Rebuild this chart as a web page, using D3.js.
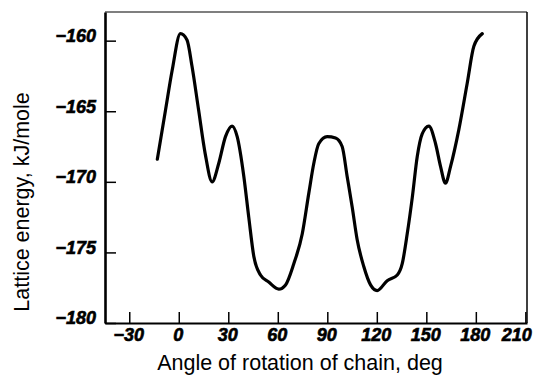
<!DOCTYPE html>
<html>
<head>
<meta charset="utf-8">
<script src="https://cdn.jsdelivr.net/npm/d3@7"></script>
<style>
  html, body { margin: 0; padding: 0; background: #fff; }
  svg { display: block; }
</style>
</head>
<body>
<svg id="chart" width="533" height="375"></svg>
<script>
// Lattice energy as a function of chain rotation angle
const angleDeg = [-13, -8, -4, 1, 5, 8, 12, 16, 20.2, 24.2, 28.3, 32.3, 35.4, 39.4, 42.4, 45.5, 49.5, 54.5, 60.6, 64.7, 69.7, 74.8, 78.8, 81.8, 84.8, 89.9, 95, 99, 102, 105.1, 108.1, 112.1, 116.2, 120.2, 126.3, 132.4, 135.4, 138.4, 141.5, 144.5, 147.5, 151.5, 155.6, 158.6, 161.6, 164.7, 169.7, 174.8, 178.8, 183.9];
const energyKJ = [-168.4, -164.9, -162.1, -159.5, -159.95, -161.8, -164.9, -168.0, -170.0, -168.7, -166.8, -166.05, -166.8, -169.6, -172.5, -175.3, -176.6, -177.1, -177.6, -177.3, -175.8, -173.7, -170.8, -168.7, -167.3, -166.8, -166.9, -167.5, -169.6, -171.8, -174.1, -176.0, -177.3, -177.7, -177.0, -176.6, -175.8, -173.7, -171.1, -168.2, -166.6, -166.05, -167.3, -168.9, -170.1, -168.9, -166.3, -163.0, -160.4, -159.5];
const xTicks = [-30, 0, 30, 60, 90, 120, 150, 180, 210];
const yTicks = [-160, -165, -170, -175, -180];
const xTitle = "Angle of rotation of chain, deg";
const yTitle = "Lattice energy, kJ/mole";

const svg = d3.select("#chart");
const plotLeft = 105, plotRight = 527, plotTop = 12, plotBottom = 323;

const x = d3.scaleLinear().domain([-44.7, 211]).range([plotLeft, plotRight]);
const y = d3.scaleLinear().domain([-180, -157.97]).range([plotBottom, plotTop]);

const fmt = d => (d < 0 ? "\u2212" + Math.abs(d) : String(d));

// Heavy oblique numerals for the tick labels
function styleTickText(sel) {
  sel.attr("fill", "#000")
    .attr("stroke", "#000").attr("stroke-width", 0.6)
    .style("font-family", "'Liberation Sans', Arial, sans-serif")
    .style("font-weight", "bold")
    .style("font-style", "italic")
    .style("font-size", "18px");
}

// Frame
svg.append("line").attr("x1", plotLeft).attr("x2", plotRight).attr("y1", plotTop).attr("y2", plotTop)
  .attr("stroke", "#000").attr("stroke-width", 1.2);
svg.append("line").attr("x1", plotRight).attr("x2", plotRight).attr("y1", plotTop).attr("y2", plotBottom)
  .attr("stroke", "#000").attr("stroke-width", 1.5);

// Bottom axis (ticks pointing inward)
const xAxis = d3.axisBottom(x).tickValues(xTicks).tickSizeInner(-11).tickSizeOuter(0).tickFormat(fmt);
const gx = svg.append("g").attr("transform", `translate(0,${plotBottom})`).call(xAxis);
gx.select(".domain").attr("stroke-width", 2.2);
gx.selectAll(".tick line").attr("stroke-width", 1.5);
gx.selectAll(".tick text").call(styleTickText).attr("y", 5).attr("dy", "0.71em")
  .attr("text-anchor", d => (d === 210 ? "end" : "middle"))
  .attr("x", d => (d === 210 ? 6 : -1));

// Left axis (ticks pointing inward)
const yAxis = d3.axisLeft(y).tickValues(yTicks).tickSizeInner(-11).tickSizeOuter(0).tickFormat(fmt);
const gy = svg.append("g").attr("transform", `translate(${plotLeft},0)`).call(yAxis);
gy.select(".domain").attr("stroke-width", 2.6);
gy.selectAll(".tick line").attr("stroke-width", 1.5);
gy.selectAll(".tick text").call(styleTickText).attr("x", -9).attr("dy", "0.05em");

// Axis titles
const titleStyle = sel => sel.attr("fill", "#000")
  .style("font-family", "'Liberation Sans', Arial, sans-serif")
  .style("font-size", "21.5px");
svg.append("text").call(titleStyle).attr("x", 300).attr("y", 370)
  .attr("text-anchor", "middle").text(xTitle);
svg.append("text").call(titleStyle)
  .attr("transform", "translate(29,202) rotate(-90)")
  .attr("text-anchor", "middle").text(yTitle);

// Energy curve
const line = d3.line().x((d, i) => x(angleDeg[i])).y(d => y(d)).curve(d3.curveMonotoneX);
svg.append("path").datum(energyKJ).attr("d", line)
  .attr("fill", "none").attr("stroke", "#000").attr("stroke-width", 3.2)
  .attr("stroke-linejoin", "round").attr("stroke-linecap", "round");
</script>
</body>
</html>
